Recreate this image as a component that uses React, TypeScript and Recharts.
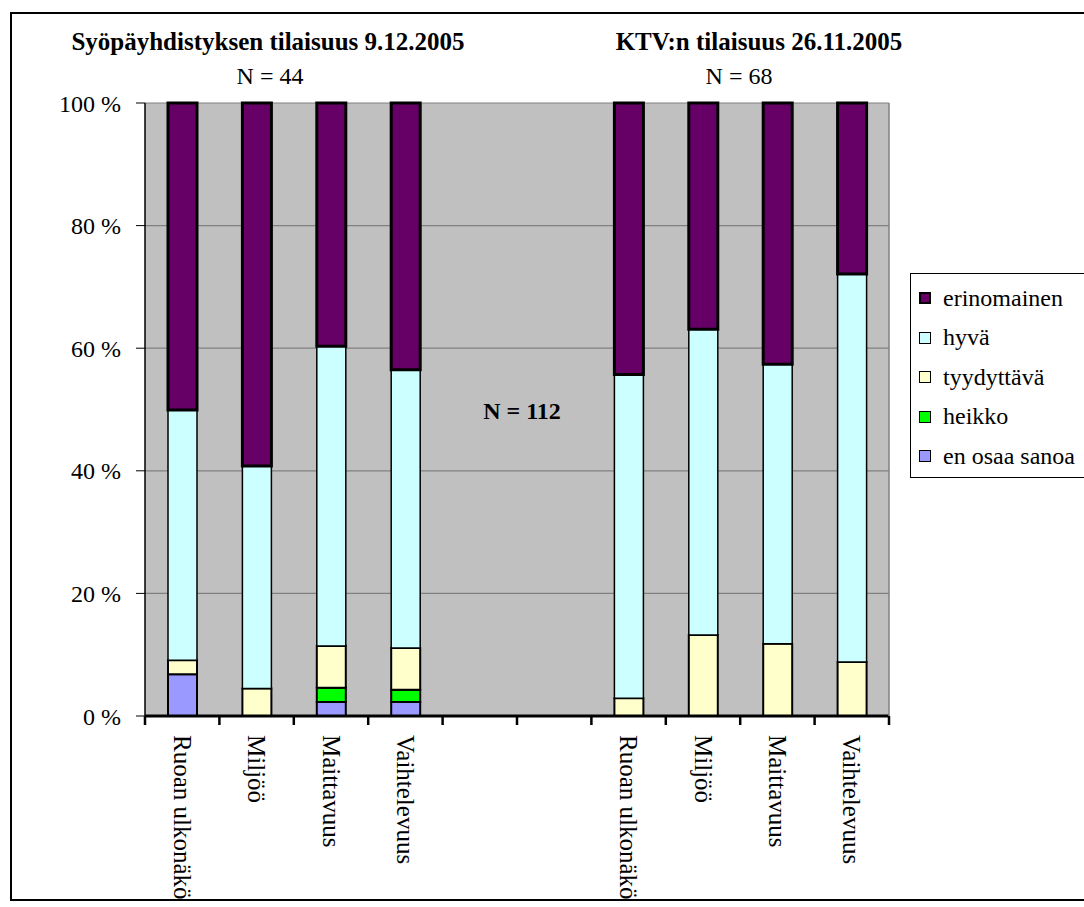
import React from "react";
import { Bar, BarChart, CartesianGrid, XAxis, YAxis } from "recharts";

// Stacked 100 % columns: two events side by side, separated by two empty slots.

if (typeof document !== "undefined") document.body.style.margin = "0";

const FONT = "'Liberation Serif', Tinos, 'DejaVu Serif', serif";

const CATEGORIES = [
  "Ruoan ulkonäkö",
  "Miljöö",
  "Maittavuus",
  "Vaihtelevuus",
  "",
  "",
  "Ruoan ulkonäkö",
  "Miljöö",
  "Maittavuus",
  "Vaihtelevuus",
];

const EN_OSAA_SANOA = [6.8, 0, 2.3, 2.3, 0, 0, 0, 0, 0, 0];
const HEIKKO = [0, 0, 2.3, 2.0, 0, 0, 0, 0, 0, 0];
const TYYDYTTAVA = [2.3, 4.5, 6.8, 6.8, 0, 0, 2.9, 13.2, 11.8, 8.8];
const HYVA = [40.8, 36.3, 48.9, 45.4, 0, 0, 52.8, 49.9, 45.6, 63.3];
const ERINOMAINEN = [50.1, 59.2, 39.7, 43.5, 0, 0, 44.3, 36.9, 42.6, 27.9];

const Y_TICKS = [0, 20, 40, 60, 80, 100];

const TITLES = ["Syöpäyhdistyksen tilaisuus 9.12.2005", "KTV:n tilaisuus 26.11.2005"];
const GROUP_N = ["N = 44", "N = 68"];
const TOTAL_N = "N = 112";

// bottom of the stack first
const SERIES = [
  { key: "enOsaa", name: "en osaa sanoa", values: EN_OSAA_SANOA, fill: "#9999FF", sw: 2 },
  { key: "heikko", name: "heikko", values: HEIKKO, fill: "#00FF00", sw: 2 },
  { key: "tyyd", name: "tyydyttävä", values: TYYDYTTAVA, fill: "#FFFFCC", sw: 2 },
  { key: "hyva", name: "hyvä", values: HYVA, fill: "#CCFFFF", sw: 1.5 },
  { key: "erin", name: "erinomainen", values: ERINOMAINEN, fill: "#660066", sw: 3 },
];

const data = CATEGORIES.map((_, i) => {
  const row: Record<string, number | string> = { id: `c${i}` };
  SERIES.forEach((s) => (row[s.key] = s.values[i]));
  return row;
});

const W = 1084;
const H = 907;
const PLOT = { left: 145, right: 889, top: 103, bottom: 716 };
const Y_AXIS_W = 60;
const X_AXIS_H = 180;

function XTick(props: any) {
  const { x, index } = props;
  const bw = (PLOT.right - PLOT.left) / CATEGORIES.length;
  const label = CATEGORIES[index] ?? "";
  const y0 = PLOT.bottom;
  return (
    <g>
      <line x1={x - bw / 2} x2={x - bw / 2} y1={y0} y2={y0 + 9} stroke="#000" strokeWidth={2.5} />
      {index === CATEGORIES.length - 1 && (
        <line x1={x + bw / 2} x2={x + bw / 2} y1={y0} y2={y0 + 9} stroke="#000" strokeWidth={2.5} />
      )}
      <text
        transform={`translate(${x},${y0 + 19}) rotate(90)`}
        textAnchor="start"
        dominantBaseline="central"
        fontSize={25}
        fontFamily={FONT}
        fill="#000"
      >
        {label}
      </text>
    </g>
  );
}

export default function App() {
  const legend = [...SERIES].reverse();
  return (
    <div style={{ position: "relative", width: W, height: H, overflow: "hidden", background: "#fff", fontFamily: FONT }}>
      <div
        style={{
          position: "absolute",
          left: 10,
          top: 12,
          width: 1100,
          height: 889,
          border: "2px solid #000",
          boxSizing: "border-box",
        }}
      />
      <div style={{ position: "absolute", left: 0, top: 0 }}>
        <BarChart
          width={W}
          height={H}
          data={data}
          margin={{
            top: PLOT.top,
            left: PLOT.left - Y_AXIS_W,
            right: W - PLOT.right - 1,
            bottom: H - PLOT.bottom - X_AXIS_H,
          }}
          barSize={29}
        >
          <CartesianGrid fill="#C0C0C0" stroke="#808080" strokeWidth={1.2} vertical={false} />
          <XAxis
            dataKey="id"
            interval={0}
            height={X_AXIS_H}
            tickLine={false}
            axisLine={{ stroke: "#000", strokeWidth: 3 }}
            tick={<XTick />}
          />
          <YAxis
            domain={[0, 100]}
            ticks={Y_TICKS}
            width={Y_AXIS_W}
            tickSize={9}
            tickMargin={15}
            tickFormatter={(v: number) => `${v} %`}
            tick={{ fontSize: 24, fill: "#000", fontFamily: FONT }}
            tickLine={{ stroke: "#000", strokeWidth: 1 }}
            axisLine={{ stroke: "#000", strokeWidth: 1.5 }}
          />
          <YAxis
            yAxisId="r"
            orientation="right"
            width={1}
            tick={false}
            tickLine={false}
            axisLine={{ stroke: "#808080", strokeWidth: 1.5 }}
          />
          {SERIES.map((s) => (
            <Bar
              key={s.key}
              dataKey={s.key}
              name={s.name}
              stackId="a"
              fill={s.fill}
              stroke="#000"
              strokeWidth={s.sw}
              isAnimationActive={false}
            />
          ))}
        </BarChart>
      </div>

      {TITLES.map((t, i) => (
        <div
          key={t}
          style={{
            position: "absolute",
            left: i === 0 ? 268 : 759,
            top: 28,
            transform: "translateX(-50%)",
            whiteSpace: "nowrap",
            fontWeight: "bold",
            fontSize: 25,
            lineHeight: "28px",
          }}
        >
          {t}
        </div>
      ))}
      {GROUP_N.map((t, i) => (
        <div
          key={t}
          style={{
            position: "absolute",
            left: i === 0 ? 270 : 739,
            top: 62,
            transform: "translateX(-50%)",
            whiteSpace: "nowrap",
            fontSize: 24,
            lineHeight: "28px",
          }}
        >
          {t}
        </div>
      ))}
      <div
        style={{
          position: "absolute",
          left: 522,
          top: 397,
          transform: "translateX(-50%)",
          whiteSpace: "nowrap",
          fontWeight: "bold",
          fontSize: 24,
          lineHeight: "28px",
        }}
      >
        {TOTAL_N}
      </div>

      <div
        style={{
          position: "absolute",
          left: 910,
          top: 273,
          width: 200,
          height: 205,
          border: "1px solid #000",
          boxSizing: "border-box",
          background: "#fff",
        }}
      >
        {legend.map((s, i) => (
          <div
            key={s.key}
            style={{
              position: "absolute",
              left: 8,
              top: 9 + i * 39.5,
              height: 30,
              display: "flex",
              alignItems: "center",
              whiteSpace: "nowrap",
            }}
          >
            <span
              style={{
                display: "inline-block",
                width: 12,
                height: 12,
                background: s.fill,
                border: `${s.sw === 3 ? 2.5 : 1.5}px solid #000`,
                boxSizing: "border-box",
                marginRight: 12,
              }}
            />
            <span style={{ fontSize: 24 }}>{s.name}</span>
          </div>
        ))}
      </div>
    </div>
  );
}
